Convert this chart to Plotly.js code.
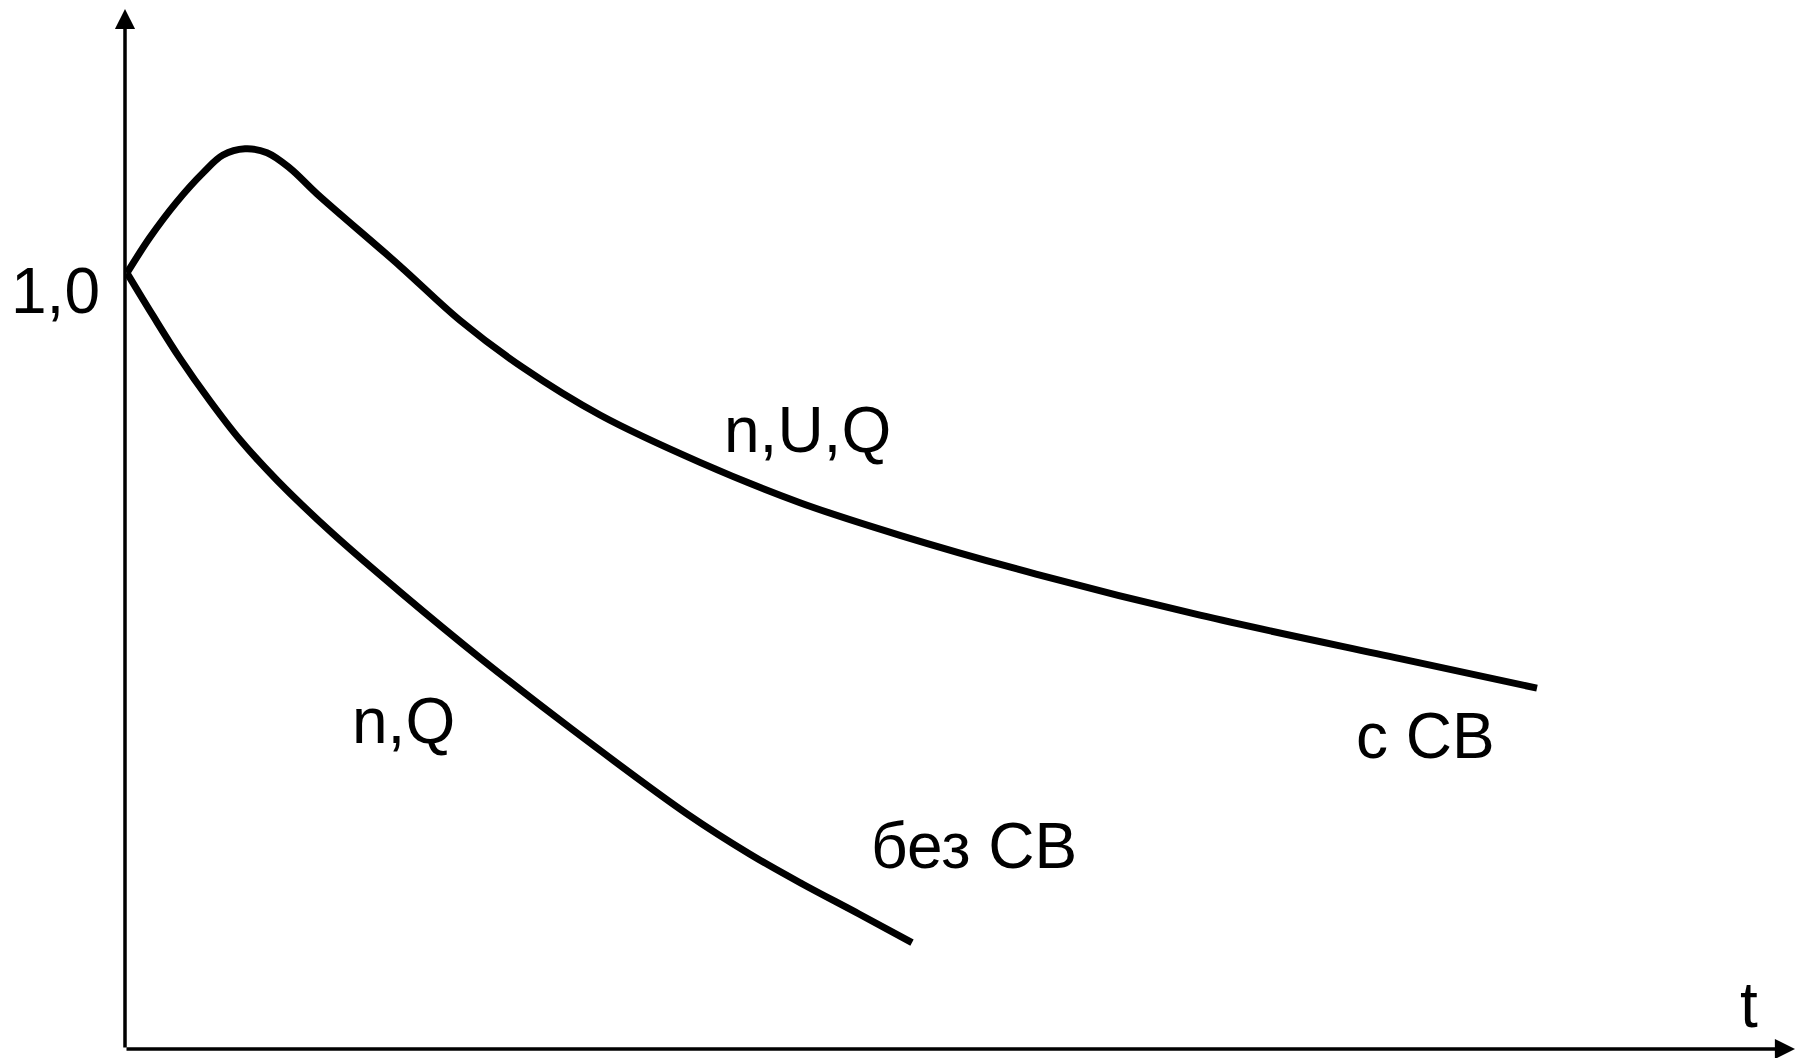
<!DOCTYPE html>
<html>
<head>
<meta charset="utf-8">
<script src="https://cdn.plot.ly/plotly-3.0.1.min.js"></script>
<style>html,body{margin:0;padding:0;background:#fff;}#chart{width:1796px;height:1058px;}</style>
</head>
<body>
<div id="chart"></div>
<script>
// Curve with СВ (n,U,Q)
const tWith = [0.02, 0.25, 0.52, 0.78, 0.98, 1.20, 1.42, 1.65, 1.92, 2.75, 3.35, 3.98, 4.75, 5.75, 6.75, 7.75, 9.11, 10.75, 12.75, 14.12];
const yWith = [1.000, 1.046, 1.092, 1.129, 1.152, 1.160, 1.155, 1.135, 1.102, 1.009, 0.939, 0.878, 0.817, 0.756, 0.704, 0.662, 0.612, 0.559, 0.503, 0.465];
// Curve without СВ (n,Q)
const tWithout = [0.02, 0.28, 0.55, 0.85, 1.15, 1.52, 2.07, 2.76, 3.56, 4.48, 5.62, 6.25, 6.77, 7.34, 7.87];
const yWithout = [1.000, 0.945, 0.890, 0.835, 0.785, 0.733, 0.665, 0.588, 0.503, 0.411, 0.303, 0.251, 0.213, 0.174, 0.137];

const xRange = [0, 16.71];
const yRange = [0, 1.3518];
const font = 'Liberation Sans, Arial, sans-serif';

const traces = [
  {x: tWith, y: yWith, mode: 'lines', line: {color: '#000', width: 7, shape: 'spline', smoothing: 1.0}, cliponaxis: false, hoverinfo: 'skip'},
  {x: tWithout, y: yWithout, mode: 'lines', line: {color: '#000', width: 7, shape: 'spline', smoothing: 1.0}, cliponaxis: false, hoverinfo: 'skip'}
];

function txt(text, x, y, xanchor, xref) {
  return {text: text, x: x, y: y, xref: xref || 'x', yref: 'y', xanchor: xanchor || 'left', yanchor: 'middle',
    showarrow: false, font: {family: font, size: 64, color: '#000'}};
}

const layout = {
  width: 1796, height: 1058,
  margin: {l: 125, r: 0, t: 0, b: 9, pad: 0},
  paper_bgcolor: '#fff', plot_bgcolor: '#fff',
  showlegend: false,
  xaxis: {range: xRange, showgrid: false, zeroline: false, showline: false, showticklabels: false, ticks: ''},
  yaxis: {range: yRange, showgrid: false, zeroline: false, showline: false, showticklabels: false, ticks: ''},
  annotations: [
    // y axis arrow
    {x: 0, y: 1.3403, ax: 0, ay: 0, xref: 'x', yref: 'y', axref: 'x', ayref: 'y', showarrow: true,
     arrowhead: 2, arrowsize: 1.15, arrowwidth: 3.5, arrowcolor: '#000', text: ''},
    // x axis arrow
    {x: 16.70, y: 0, ax: 0, ay: 0, xref: 'x', yref: 'y', axref: 'x', ayref: 'y', showarrow: true,
     arrowhead: 2, arrowsize: 1.15, arrowwidth: 3.5, arrowcolor: '#000', text: ''},
    txt('1,0', -0.014, (1049 - 291) / 776, 'right', 'paper'),
    txt('n,U,Q', 5.97, (1049 - 430) / 776),
    txt('n,Q', 2.25, (1049 - 721) / 776),
    txt('с СВ', 12.29, (1049 - 736) / 776),
    txt('без СВ', 7.44, (1049 - 846) / 776),
    txt('t', 16.13, (1049 - 1005) / 776)
  ]
};

Plotly.newPlot('chart', traces, layout, {displayModeBar: false, staticPlot: true});
</script>
</body>
</html>
